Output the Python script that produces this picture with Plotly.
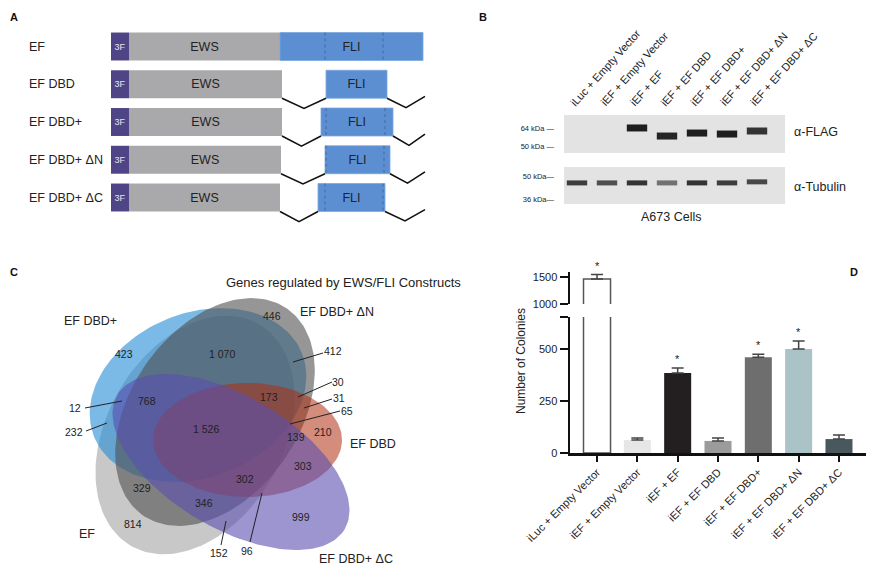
import numpy as np
import plotly.graph_objects as go

W, H = 871, 568
FONT = "Arial, Liberation Sans, Helvetica, sans-serif"


def px(x):
    return x / W


def py(y):
    return 1 - y / H


# ---------------- Panel A data (positions along construct, schematic units) ----
constructs = ["EF", "EF DBD", "EF DBD+", "EF DBD+ ΔN", "EF DBD+ ΔC"]
flag_start = [111, 111, 111, 111, 111]
flag_end = [129, 129, 129, 129, 129]
ews_end = [280, 282, 282, 281, 280]
fli_start = [280, 326, 321, 325, 318]
fli_end = [423, 387, 393, 390, 385]
fli_marks = [[325, 383], [], [326, 385], [326, 384], [325, 383]]
construct_end = 425

# ---------------- Panel B data ----------------
lanes = ["iLuc + Empty Vector", "iEF + Empty Vector", "iEF + EF", "iEF + EF DBD",
         "iEF + EF DBD+", "iEF + EF DBD+ ΔN", "iEF + EF DBD+ ΔC"]
flag_kda = [None, None, 64, 57.3, 59.7, 58.9, 61.4]
flag_int = [0, 0, 0.95, 0.92, 0.95, 0.95, 0.85]
tub_kda = [45.3, 45.3, 45.3, 45.3, 45.3, 45.3, 46.0]
tub_int = [0.80, 0.72, 0.85, 0.55, 0.85, 0.80, 0.75]
flag_markers = [64, 50]
tub_markers = [50, 36]

# ---------------- Panel C data ----------------
venn_sets = ["EF", "EF DBD+", "EF DBD+ ΔN", "EF DBD", "EF DBD+ ΔC"]
venn_counts = ["423", "446", "1 070", "412", "30", "31", "65", "768", "173", "12",
               "232", "1 526", "139", "210", "303", "302", "329", "346", "999",
               "814", "152", "96"]

# ---------------- Panel D data ----------------
groups = ["iLuc + Empty Vector", "iEF + Empty Vector", "iEF + EF", "iEF + EF DBD",
          "iEF + EF DBD+", "iEF + EF DBD+ ΔN", "iEF + EF DBD+ ΔC"]
colonies = [1463, 62, 385, 58, 461, 500, 67]
colonies_err = [80, 10, 24, 14, 14, 38, 20]
significant = [True, False, True, False, True, True, False]

fig = go.Figure()

# ============ Panel A ============
rows = list(range(len(constructs)))
half = 0.37
fig.add_trace(go.Bar(orientation="h", y=rows, base=flag_start,
                     x=[e - s for s, e in zip(flag_start, flag_end)], width=0.74,
                     marker=dict(color="#4f4586", line=dict(width=0)),
                     text=["3F"] * 5, textposition="inside", insidetextanchor="middle",
                     constraintext="none", textangle=0,
                     textfont=dict(color="#e6e4f0", size=9, family=FONT),
                     xaxis="x", yaxis="y", hoverinfo="skip"))
fig.add_trace(go.Bar(orientation="h", y=rows, base=flag_end,
                     x=[e - s for s, e in zip(flag_end, ews_end)], width=0.74,
                     marker=dict(color="#a9a9ab", line=dict(width=0)),
                     text=["EWS"] * 5, textposition="inside", insidetextanchor="middle",
                     constraintext="none", textangle=0,
                     textfont=dict(color="#222222", size=12.5, family=FONT),
                     xaxis="x", yaxis="y", hoverinfo="skip"))
fig.add_trace(go.Bar(orientation="h", y=rows, base=fli_start,
                     x=[e - s for s, e in zip(fli_start, fli_end)], width=0.74,
                     marker=dict(color="#5c8fd2", line=dict(width=0.8, color="#7aa6e0")),
                     text=["FLI"] * 5, textposition="inside", insidetextanchor="middle",
                     constraintext="none", textangle=0,
                     textfont=dict(color="#222222", size=12.5, family=FONT),
                     xaxis="x", yaxis="y", hoverinfo="skip"))

cx_, cy_ = [], []
for i in rows:
    bot = i + half
    dip = bot + 0.27
    if fli_start[i] - ews_end[i] > 5:
        cx_ += [ews_end[i], (ews_end[i] + fli_start[i]) / 2, fli_start[i], None]
        cy_ += [bot, dip, bot, None]
    if construct_end - fli_end[i] > 5:
        cx_ += [fli_end[i], (fli_end[i] + construct_end) / 2, construct_end, None]
        cy_ += [bot, dip - 0.02, bot - 0.05, None]
fig.add_trace(go.Scatter(x=cx_, y=cy_, mode="lines", line=dict(color="#111111", width=1.6),
                         xaxis="x", yaxis="y", hoverinfo="skip"))
mx, my = [], []
for i in rows:
    for m in fli_marks[i]:
        mx += [m, m, None]
        my += [i - half, i + half, None]
fig.add_trace(go.Scatter(x=mx, y=my, mode="lines",
                         line=dict(color="#3d5f93", width=0.8, dash="dot"),
                         xaxis="x", yaxis="y", hoverinfo="skip"))

annotations = []
for i, name in enumerate(constructs):
    annotations.append(dict(x=27, y=i, xref="x", yref="y", text=name, showarrow=False,
                            xanchor="left", yanchor="middle",
                            font=dict(size=12.5, color="#222222", family=FONT)))

# ============ Panel B ============
band_half = 0.34


def gray(v):
    g = int(round(230 - v * 210))
    return f"rgb({g},{g},{g})"


for i, (k, v) in enumerate(zip(flag_kda, flag_int)):
    if k is None:
        continue
    fig.add_trace(go.Scatter(x=[i - band_half, i + band_half], y=[k, k], mode="lines",
                             line=dict(color=gray(v), width=7), xaxis="x2", yaxis="y2",
                             hoverinfo="skip"))
for i, (k, v) in enumerate(zip(tub_kda, tub_int)):
    fig.add_trace(go.Scatter(x=[i - band_half, i + band_half], y=[k, k], mode="lines",
                             line=dict(color=gray(v), width=5), xaxis="x2", yaxis="y3",
                             hoverinfo="skip"))

shapes = []
for yr in ["y2", "y3"]:
    shapes.append(dict(type="rect", xref="x2 domain", yref=yr + " domain", x0=0, x1=1,
                       y0=0, y1=1, fillcolor="#e3e3e3", line=dict(width=0), layer="below"))

for i, lab in enumerate(lanes):
    annotations.append(dict(x=i, y=py(111), xref="x2", yref="paper", text=lab,
                            showarrow=False, textangle=-48, xanchor="left",
                            yanchor="bottom", xshift=-12,
                            font=dict(size=11, color="#222222", family=FONT)))
annotations += [
    dict(x=px(792), y=py(132), xref="paper", yref="paper", text="α-FLAG", showarrow=False,
         xanchor="left", yanchor="middle", font=dict(size=12.5, color="#222", family=FONT)),
    dict(x=px(792), y=py(187), xref="paper", yref="paper", text="α-Tubulin",
         showarrow=False, xanchor="left", yanchor="middle",
         font=dict(size=12.5, color="#222", family=FONT)),
    dict(x=px(671), y=py(217), xref="paper", yref="paper", text="A673 Cells",
         showarrow=False, xanchor="center", yanchor="middle",
         font=dict(size=12.5, color="#222", family=FONT)),
]

# ============ Panel C ============
ellipses = {
    "EF": dict(c=(195, 435), a=128, b=88, ang=60, col=(163, 163, 163), alpha=0.6),
    "EF DBD+": dict(c=(198, 395), a=112, b=82, ang=22, col=(35, 138, 215), alpha=0.6),
    "EF DBD+ ΔN": dict(c=(215, 412), a=126, b=84, ang=55, col=(80, 80, 80), alpha=0.6),
    "EF DBD": dict(c=(247.5, 440), a=94.5, b=57, ang=0, col=(177, 46, 19), alpha=0.55),
    "EF DBD+ ΔC": dict(c=(231, 462), a=132, b=66, ang=-30.6, col=(90, 78, 175), alpha=0.6),
}
t = np.linspace(0, 2 * np.pi, 160)
for name in venn_sets:
    e = ellipses[name]
    th = np.deg2rad(e["ang"])
    xs = e["c"][0] + e["a"] * np.cos(t) * np.cos(th) - e["b"] * np.sin(t) * np.sin(th)
    ys = e["c"][1] - (e["a"] * np.cos(t) * np.sin(th) + e["b"] * np.sin(t) * np.cos(th))
    r, g, b = e["col"]
    fig.add_trace(go.Scatter(x=xs, y=ys, mode="lines", fill="toself",
                             fillcolor=f"rgba({r},{g},{b},{e['alpha']})",
                             line=dict(width=0), xaxis="x4", yaxis="y4", hoverinfo="skip"))

set_label_pos = {"EF": (87, 534), "EF DBD+": (90, 321), "EF DBD+ ΔN": (337, 312),
                 "EF DBD+ ΔC": (356, 559), "EF DBD": (373, 444)}
for name in venn_sets:
    x, y = set_label_pos[name]
    annotations.append(dict(x=x, y=y, xref="x4", yref="y4", text=name, showarrow=False,
                            font=dict(size=12.5, color="#222", family=FONT)))

count_pos = [(124, 354), (272, 316), (222, 354), (333, 351), (338, 382), (339, 398),
             (347, 411), (147, 401), (269, 397), (75, 408), (74, 432), (206, 429),
             (296, 437), (323, 432), (303, 466), (245, 479), (142, 488), (204, 503),
             (301, 517), (133, 524), (219, 553), (247, 551)]
for txt, (x, y) in zip(venn_counts, count_pos):
    annotations.append(dict(x=x, y=y, xref="x4", yref="y4", text=txt, showarrow=False,
                            font=dict(size=10.5, color="#222", family=FONT)))
leaders = [((293, 362), (323, 353)), ((298, 397), (332, 382)), ((304, 408), (332, 399)),
           ((290, 424), (340, 411)), ((85, 408), (122, 401)), ((86, 431), (107, 423)),
           ((226, 521), (221, 545)), ((262, 493), (250, 542))]
lx, ly = [], []
for (x0, y0), (x1, y1) in leaders:
    lx += [x0, x1, None]
    ly += [y0, y1, None]
fig.add_trace(go.Scatter(x=lx, y=ly, mode="lines", line=dict(color="#222", width=1),
                         xaxis="x4", yaxis="y4", hoverinfo="skip"))
annotations.append(dict(x=px(224), y=py(283), xref="paper", yref="paper",
                        text="Genes regulated by EWS/FLI Constructs", showarrow=False,
                        font=dict(size=13, color="#222", family=FONT)))

# ============ Panel D ============
bar_colors = ["#ffffff", "#e6e6e6", "#231f20", "#9b9b9b", "#6e6e6e", "#a9c3c7", "#48585c"]
line_w = [1.5, 0, 0, 0, 0, 0, 0]
lower_err = [0] + colonies_err[1:]
fig.add_trace(go.Bar(x=groups, y=colonies, width=0.67,
                     marker=dict(color=bar_colors, line=dict(color="#555555", width=line_w)),
                     error_y=dict(type="data", array=lower_err, arrayminus=[0] * 7,
                                  symmetric=False, color="#444444", thickness=1.5, width=6),
                     xaxis="x5", yaxis="y5", hoverinfo="skip"))
fig.add_trace(go.Bar(x=groups[:1], y=colonies[:1], width=0.67,
                     marker=dict(color=bar_colors[0], line=dict(color="#555555", width=1.5)),
                     error_y=dict(type="data", array=colonies_err[:1], arrayminus=[0],
                                  symmetric=False, color="#444444", thickness=1.5, width=6),
                     xaxis="x5", yaxis="y6", hoverinfo="skip"))
for i, g in enumerate(groups):
    if not significant[i]:
        continue
    annotations.append(dict(x=g, y=colonies[i] + colonies_err[i], xref="x5",
                            yref="y6" if i == 0 else "y5", text="*", showarrow=False,
                            yanchor="bottom", yshift=1,
                            font=dict(size=11, color="#222", family=FONT)))
annotations.append(dict(x=px(521), y=py(361), xref="paper", yref="paper",
                        text="Number of Colonies", textangle=-90, showarrow=False,
                        font=dict(size=12, color="#222", family=FONT)))

# panel letters
for letter, (x, y) in {"A": (8, 9), "B": (483, 9), "C": (8, 272), "D": (860, 272)}.items():
    annotations.append(dict(x=px(x), y=py(y), xref="paper", yref="paper", text=f"<b>{letter}</b>",
                            showarrow=False, font=dict(size=11, color="#111", family=FONT)))

noaxis = dict(showgrid=False, zeroline=False, showline=False, showticklabels=False,
              ticks="", automargin=False)
rA0 = (240 - 46.5) / 37.75
rA1 = -46.5 / 37.75
laxis = dict(
    xaxis=dict(domain=[0, px(440)], range=[0, 440], anchor="y", **noaxis),
    yaxis=dict(domain=[py(240), 1], range=[rA0, rA1], anchor="x", **noaxis),
    xaxis2=dict(domain=[px(564), px(785)], range=[-0.433, 6.933], anchor="y2", **noaxis),
    yaxis2=dict(domain=[py(153), py(115)], type="log", range=[1.6572, 1.8834], anchor="x2",
                showgrid=False, zeroline=False, showline=False, ticks="", automargin=False,
                tickvals=flag_markers, ticktext=[f"{m} kDa —" for m in flag_markers],
                ticklabelstandoff=9, tickfont=dict(size=7.5, color="#222", family=FONT)),
    yaxis3=dict(domain=[py(204), py(167)], type="log", range=[1.5251, 1.7549], anchor="x2",
                showgrid=False, zeroline=False, showline=False, ticks="", automargin=False,
                tickvals=tub_markers, ticktext=[f"{m} kDa—" for m in tub_markers],
                ticklabelstandoff=9, tickfont=dict(size=7.5, color="#222", family=FONT)),
    xaxis4=dict(domain=[0, px(440)], range=[0, 440], anchor="y4", **noaxis),
    yaxis4=dict(domain=[0, py(240)], range=[568, 240], anchor="x4", **noaxis),
    xaxis5=dict(domain=[px(570), px(866)], range=[-0.67, 6.67], anchor="y5",
                showgrid=False, zeroline=False, showline=True, linewidth=2.5,
                linecolor="#111", ticks="outside", ticklen=6, tickwidth=2, tickcolor="#111",
                tickangle=-45, automargin=False,
                tickfont=dict(size=11, color="#222", family=FONT)),
    yaxis5=dict(domain=[py(453), py(317)], range=[0, 654], anchor="x5",
                showgrid=False, zeroline=False, showline=True, linewidth=2.5,
                linecolor="#111", ticks="outside", ticklen=8, tickwidth=2.5,
                tickcolor="#111", tickvals=[0, 250, 500, 654], automargin=False,
                ticktext=["0", "250", "500", ""],
                tickfont=dict(size=11, color="#222", family=FONT)),
    yaxis6=dict(domain=[py(304), py(272)], range=[1000, 1590], anchor="x5",
                showgrid=False, zeroline=False, showline=True, linewidth=2.5,
                linecolor="#111", ticks="outside", ticklen=8, tickwidth=2.5,
                tickcolor="#111", tickvals=[1000, 1500], automargin=False,
                tickfont=dict(size=11, color="#222", family=FONT)),
)

fig.update_layout(width=W, height=H, autosize=False,
                  margin=dict(l=0, r=0, t=0, b=0, pad=0, autoexpand=False),
                  paper_bgcolor="white", plot_bgcolor="white", showlegend=False,
                  hovermode=False, barmode="overlay", annotations=annotations,
                  shapes=shapes, font=dict(family=FONT), **laxis)
fig.write_html("out.html", config={"responsive": False, "displayModeBar": False,
                                   "staticPlot": True},
               post_script="document.body.style.margin='0';document.body.style.padding='0';")
